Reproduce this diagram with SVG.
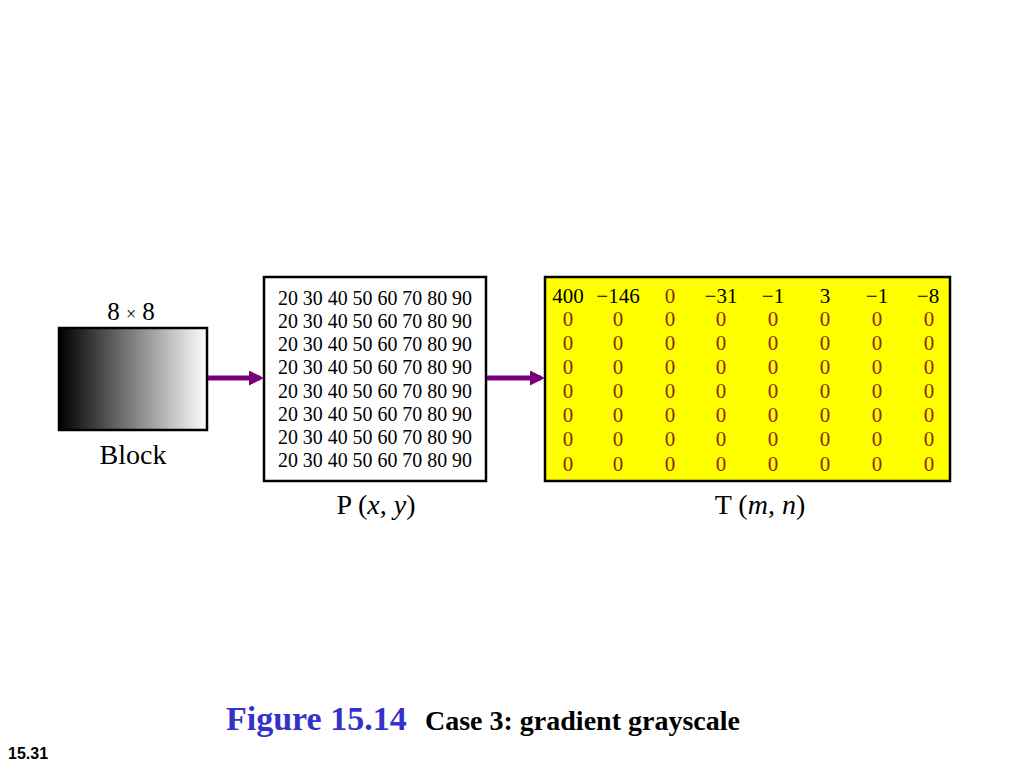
<svg xmlns="http://www.w3.org/2000/svg" width="1024" height="768" viewBox="0 0 1024 768">
<style>
.t{font-family:"Liberation Serif","Times New Roman",serif;fill:#000}
.lab{font-size:28px;text-anchor:middle}
.p{font-size:21px}
.m{font-size:21px;text-anchor:middle}
.z{fill:#8c2a14}
.box{stroke:#000;stroke-width:2.5}
.conn{stroke:#7a007a;stroke-width:5;fill:none}
</style>
<defs>
<linearGradient id="g" x1="0" y1="0" x2="1" y2="0">
<stop offset="0" stop-color="#000"/>
<stop offset="1" stop-color="#fff"/>
</linearGradient>
<marker id="ah" markerWidth="3" markerHeight="3" refX="2.2" refY="1.5" orient="auto" markerUnits="strokeWidth">
<path d="M0,0 L3,1.5 L0,3 Z" fill="#7a007a"/>
</marker>
</defs>
<rect width="1024" height="768" fill="#fff"/>
<g id="block">
<text class="t" x="131" y="320" font-size="25" text-anchor="middle">8 <tspan font-size="18">×</tspan> 8</text>
<rect class="box" x="59" y="328" width="148" height="102" fill="url(#g)"/>
<text class="t lab" x="133" y="464">Block</text>
</g>
<g id="pxy">
<rect class="box" x="264" y="277" width="222" height="204" fill="#fff"/>
<g class="t p">
<text x="278" y="305" textLength="194" lengthAdjust="spacingAndGlyphs">20 30 40 50 60 70 80 90</text>
<text x="278" y="328" textLength="194" lengthAdjust="spacingAndGlyphs">20 30 40 50 60 70 80 90</text>
<text x="278" y="351" textLength="194" lengthAdjust="spacingAndGlyphs">20 30 40 50 60 70 80 90</text>
<text x="278" y="374" textLength="194" lengthAdjust="spacingAndGlyphs">20 30 40 50 60 70 80 90</text>
<text x="278" y="398" textLength="194" lengthAdjust="spacingAndGlyphs">20 30 40 50 60 70 80 90</text>
<text x="278" y="421" textLength="194" lengthAdjust="spacingAndGlyphs">20 30 40 50 60 70 80 90</text>
<text x="278" y="444" textLength="194" lengthAdjust="spacingAndGlyphs">20 30 40 50 60 70 80 90</text>
<text x="278" y="467" textLength="194" lengthAdjust="spacingAndGlyphs">20 30 40 50 60 70 80 90</text>
</g>
<text class="t lab" x="376" y="514">P (<tspan font-style="italic">x</tspan>, <tspan font-style="italic">y</tspan>)</text>
</g>
<g id="tmn">
<rect class="box" x="545" y="277" width="405" height="204" fill="#ffff00"/>
<g class="t m">
<text x="568" y="303">400</text>
<text x="618" y="303">−146</text>
<text x="670" y="303" class="z">0</text>
<text x="721" y="303">−31</text>
<text x="773" y="303">−1</text>
<text x="825" y="303">3</text>
<text x="877" y="303">−1</text>
<text x="928" y="303">−8</text>
</g>
<g class="t m z">
<text y="326"><tspan x="568">0</tspan><tspan x="618">0</tspan><tspan x="670">0</tspan><tspan x="721">0</tspan><tspan x="773">0</tspan><tspan x="825">0</tspan><tspan x="877">0</tspan><tspan x="929">0</tspan></text>
<text y="350"><tspan x="568">0</tspan><tspan x="618">0</tspan><tspan x="670">0</tspan><tspan x="721">0</tspan><tspan x="773">0</tspan><tspan x="825">0</tspan><tspan x="877">0</tspan><tspan x="929">0</tspan></text>
<text y="374"><tspan x="568">0</tspan><tspan x="618">0</tspan><tspan x="670">0</tspan><tspan x="721">0</tspan><tspan x="773">0</tspan><tspan x="825">0</tspan><tspan x="877">0</tspan><tspan x="929">0</tspan></text>
<text y="398"><tspan x="568">0</tspan><tspan x="618">0</tspan><tspan x="670">0</tspan><tspan x="721">0</tspan><tspan x="773">0</tspan><tspan x="825">0</tspan><tspan x="877">0</tspan><tspan x="929">0</tspan></text>
<text y="422"><tspan x="568">0</tspan><tspan x="618">0</tspan><tspan x="670">0</tspan><tspan x="721">0</tspan><tspan x="773">0</tspan><tspan x="825">0</tspan><tspan x="877">0</tspan><tspan x="929">0</tspan></text>
<text y="446"><tspan x="568">0</tspan><tspan x="618">0</tspan><tspan x="670">0</tspan><tspan x="721">0</tspan><tspan x="773">0</tspan><tspan x="825">0</tspan><tspan x="877">0</tspan><tspan x="929">0</tspan></text>
<text y="471"><tspan x="568">0</tspan><tspan x="618">0</tspan><tspan x="670">0</tspan><tspan x="721">0</tspan><tspan x="773">0</tspan><tspan x="825">0</tspan><tspan x="877">0</tspan><tspan x="929">0</tspan></text>
</g>
<text class="t lab" x="760" y="514">T (<tspan font-style="italic">m</tspan>, <tspan font-style="italic">n</tspan>)</text>
</g>
<g id="connectors">
<line class="conn" x1="208" y1="378" x2="260" y2="378" marker-end="url(#ah)"/>
<line class="conn" x1="487" y1="378" x2="541" y2="378" marker-end="url(#ah)"/>
</g>
<g id="caption">
<text x="226" y="730" font-family="Liberation Serif,serif" font-weight="bold" font-size="34" fill="#3333cc">Figure 15.14</text>
<text x="425" y="730" font-family="Liberation Serif,serif" font-weight="bold" font-size="28" fill="#000">Case 3: gradient grayscale</text>
<text x="8" y="759" font-family="Liberation Sans,Arial,sans-serif" font-weight="bold" font-size="16" fill="#000">15.31</text>
</g>
</svg>
